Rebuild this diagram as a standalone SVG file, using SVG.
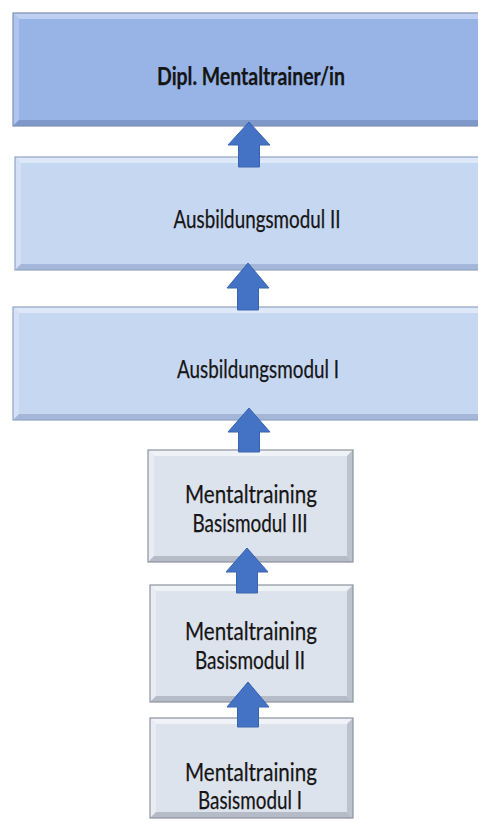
<svg xmlns="http://www.w3.org/2000/svg" width="478" height="825" viewBox="0 0 478 825">
<style>
.t{font-family:Lato,"Open Sans","Liberation Sans",sans-serif;font-size:25px;fill:#151515;stroke:#151515;stroke-width:0.25;text-anchor:middle}
.b{font-weight:bold;font-size:25px}
.ol{stroke-width:1.2;fill:none}
.a{fill:#4472C4;stroke:#3A64AE;stroke-width:1}
</style>
<rect width="478" height="825" fill="#ffffff"/>
<g id="n1">
<rect x="13" y="13" width="480" height="113" fill="#98B4E6"/>
<polygon points="13,13 493,13 487,19 19,19" fill="#BDD0F2"/>
<polygon points="13,13 19,19 19,120 13,126" fill="#AFC5EE"/>
<polygon points="13,126 19,120 487,120 493,126" fill="#7F98CA"/>
<rect x="13" y="13" width="480" height="113" class="ol" stroke="#7C8FB2"/>
<text class="t b" x="251" y="85" textLength="188" lengthAdjust="spacingAndGlyphs">Dipl. Mentaltrainer/in</text>
</g>
<g id="n2">
<rect x="15" y="157" width="478" height="113" fill="#C6D7F1"/>
<polygon points="15,157 493,157 487,163 21,163" fill="#DDE8F9"/>
<polygon points="15,157 21,163 21,264 15,270" fill="#D3E0F6"/>
<polygon points="15,270 21,264 487,264 493,270" fill="#A4B7D9"/>
<rect x="15" y="157" width="478" height="113" class="ol" stroke="#92A3C2"/>
<text class="t" x="257" y="228" textLength="167" lengthAdjust="spacingAndGlyphs">Ausbildungsmodul II</text>
</g>
<g id="n3">
<rect x="13" y="307" width="480" height="113" fill="#C6D7F1"/>
<polygon points="13,307 493,307 487,313 19,313" fill="#DDE8F9"/>
<polygon points="13,307 19,313 19,414 13,420" fill="#D3E0F6"/>
<polygon points="13,420 19,414 487,414 493,420" fill="#A4B7D9"/>
<rect x="13" y="307" width="480" height="113" class="ol" stroke="#92A3C2"/>
<text class="t" x="258" y="378" textLength="162" lengthAdjust="spacingAndGlyphs">Ausbildungsmodul I</text>
</g>
<g id="n4">
<rect x="148" y="450" width="205" height="112" fill="#DDE3ED"/>
<polygon points="148,450 353,450 347,456 154,456" fill="#EFF2F7"/>
<polygon points="148,450 154,456 154,556 148,562" fill="#E8ECF3"/>
<polygon points="148,562 154,556 347,556 353,562" fill="#B5BCC8"/>
<polygon points="353,450 353,562 347,556 347,456" fill="#BCC3CF"/>
<rect x="148" y="450" width="205" height="112" class="ol" stroke="#8D939D"/>
<text class="t" x="251" y="503" textLength="132" lengthAdjust="spacingAndGlyphs">Mentaltraining</text>
<text class="t" x="250" y="532" textLength="115" lengthAdjust="spacingAndGlyphs">Basismodul III</text>
</g>
<g id="n5">
<rect x="150" y="585" width="203" height="117" fill="#DDE3ED"/>
<polygon points="150,585 353,585 347,591 156,591" fill="#EFF2F7"/>
<polygon points="150,585 156,591 156,696 150,702" fill="#E8ECF3"/>
<polygon points="150,702 156,696 347,696 353,702" fill="#B5BCC8"/>
<polygon points="353,585 353,702 347,696 347,591" fill="#BCC3CF"/>
<rect x="150" y="585" width="203" height="117" class="ol" stroke="#8D939D"/>
<text class="t" x="251" y="640" textLength="132" lengthAdjust="spacingAndGlyphs">Mentaltraining</text>
<text class="t" x="250" y="669" textLength="110" lengthAdjust="spacingAndGlyphs">Basismodul II</text>
</g>
<g id="n6">
<rect x="150" y="718" width="203" height="100" fill="#DDE3ED"/>
<polygon points="150,718 353,718 347,724 156,724" fill="#EFF2F7"/>
<polygon points="150,718 156,724 156,812 150,818" fill="#E8ECF3"/>
<polygon points="150,818 156,812 347,812 353,818" fill="#B5BCC8"/>
<polygon points="353,718 353,818 347,812 347,724" fill="#BCC3CF"/>
<rect x="150" y="718" width="203" height="100" class="ol" stroke="#8D939D"/>
<text class="t" x="251" y="781" textLength="132" lengthAdjust="spacingAndGlyphs">Mentaltraining</text>
<text class="t" x="250" y="809" textLength="104" lengthAdjust="spacingAndGlyphs">Basismodul I</text>
</g>
<g id="connectors">
<polygon class="a" points="249,122 270,145 259.5,145 259.5,167 238.5,167 238.5,145 228,145"/>
<polygon class="a" points="248,263 269,288 258.5,288 258.5,310 237.5,310 237.5,288 227,288"/>
<polygon class="a" points="249,408 270,432 259.5,432 259.5,452 238.5,452 238.5,432 228,432"/>
<polygon class="a" points="247,548 268,572 257.5,572 257.5,593 236.5,593 236.5,572 226,572"/>
<polygon class="a" points="248,682 269,707 258.5,707 258.5,727 237.5,727 237.5,707 227,707"/>
</g>
</svg>
